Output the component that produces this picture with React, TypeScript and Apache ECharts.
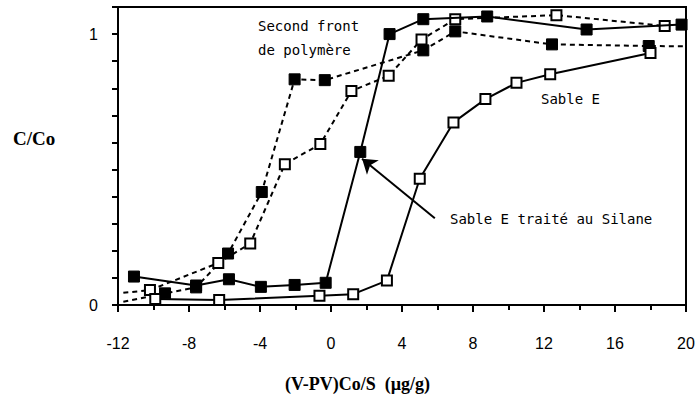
import React, { useEffect, useRef } from "react";
import * as echarts from "echarts";

// Sable E traité au Silane (solid line, filled squares)
const silaneX = [-11.1, -7.6, -5.75, -3.95, -2.05, -0.3, 1.65, 3.3, 5.2, 8.8, 14.4, 19.75];
const silaneY = [0.105, 0.072, 0.095, 0.067, 0.074, 0.082, 0.565, 1.0, 1.055, 1.065, 1.017, 1.035];

// Sable E (solid line, open squares)
const sableX = [-9.9, -6.3, -0.65, 1.25, 3.15, 5.0, 6.9, 8.7, 10.45, 12.35, 18.0];
const sableY = [0.022, 0.018, 0.034, 0.04, 0.09, 0.466, 0.674, 0.76, 0.82, 0.852, 0.93];

// Second front, filled squares (dashed)
const frontFilledX = [-11.7, -9.35, -7.6, -5.8, -3.9, -2.05, -0.35, 5.2, 7.0, 12.45, 17.9, 20];
const frontFilledY = [0.012, 0.043, 0.065, 0.19, 0.417, 0.833, 0.83, 0.94, 1.01, 0.962, 0.956, 0.955];
const frontFilledHidden = [0, 11];

// Second front, open squares (dashed)
const frontOpenX = [-11.7, -10.2, -6.35, -4.55, -2.6, -0.6, 1.15, 3.25, 5.1, 7.0, 12.7, 18.8];
const frontOpenY = [0.045, 0.055, 0.155, 0.227, 0.52, 0.594, 0.79, 0.846, 0.98, 1.055, 1.07, 1.03];
const frontOpenHidden = [0];

const xTicks = [-12, -8, -4, 0, 4, 8, 12, 16, 20];
const yLabelled = [0, 1];

const arrowFrom = [5.85, 0.32];
const arrowTo = [1.75, 0.54];

function pts(xs: number[], ys: number[], hidden: number[] = []) {
  return xs.map((x, i) =>
    hidden.includes(i) ? { value: [x, ys[i]], symbol: "none" } : { value: [x, ys[i]] }
  );
}

export default function App() {
  const ref = useRef<HTMLDivElement>(null);
  useEffect(() => {
    document.body.style.margin = "0";
    const chart = echarts.init(ref.current!, null, { renderer: "svg" });
    const filled = { color: "#000", borderColor: "#000", borderWidth: 1 };
    const open = { color: "#fff", borderColor: "#000", borderWidth: 2 };
    const annFont = "'DejaVu Sans Mono', monospace";
    chart.setOption({
      animation: false,
      backgroundColor: "#fff",
      grid: {
        left: 118,
        right: 13,
        top: 7,
        bottom: 95,
        show: true,
        borderColor: "#000",
        borderWidth: 2,
      },
      xAxis: {
        type: "value",
        min: xTicks[0],
        max: xTicks[xTicks.length - 1],
        interval: 4,
        axisLine: { onZero: false, lineStyle: { color: "#000", width: 2 } },
        axisTick: { show: true, length: 7, lineStyle: { color: "#000", width: 2 } },
        minorTick: { show: true, splitNumber: 2, length: 5, lineStyle: { color: "#000", width: 2 } },
        splitLine: { show: false },
        axisLabel: {
          color: "#000",
          fontSize: 16,
          fontFamily: "'Liberation Sans', Arial, sans-serif",
          margin: 30,
        },
      },
      yAxis: {
        type: "value",
        min: 0,
        max: 1.1,
        interval: 0.1,
        axisLine: { show: true, onZero: false, lineStyle: { color: "#000", width: 2 } },
        axisTick: { show: true, length: 6, lineStyle: { color: "#000", width: 2 } },
        splitLine: { show: false },
        axisLabel: {
          color: "#000",
          fontSize: 16,
          fontFamily: "'Liberation Sans', Arial, sans-serif",
          margin: 20,
          formatter: (v: number) => {
            const r = Math.round(v * 10) / 10;
            return yLabelled.includes(r) ? String(r) : "";
          },
        },
      },
      series: [
        {
          type: "line",
          data: pts(frontFilledX, frontFilledY, frontFilledHidden),
          symbol: "rect",
          symbolSize: 11,
          lineStyle: { color: "#000", width: 2, type: [5, 4] },
          itemStyle: filled,
          z: 2,
        },
        {
          type: "line",
          data: pts(frontOpenX, frontOpenY, frontOpenHidden),
          symbol: "rect",
          symbolSize: 10,
          lineStyle: { color: "#000", width: 2, type: [5, 4] },
          itemStyle: open,
          z: 3,
        },
        {
          type: "line",
          data: pts(silaneX, silaneY),
          symbol: "rect",
          symbolSize: 11,
          lineStyle: { color: "#000", width: 2 },
          itemStyle: filled,
          z: 4,
          markLine: {
            silent: true,
            symbol: ["none", "arrow"],
            symbolSize: 14,
            lineStyle: { color: "#000", width: 2, type: "solid" },
            label: { show: false },
            data: [[{ coord: arrowFrom }, { coord: arrowTo }]],
          },
        },
        {
          type: "line",
          data: pts(sableX, sableY),
          symbol: "rect",
          symbolSize: 10,
          lineStyle: { color: "#000", width: 2 },
          itemStyle: open,
          z: 5,
        },
      ],
      graphic: [
        {
          type: "text",
          left: 13,
          top: 129,
          style: { text: "C/Co", font: "bold 19px 'Liberation Serif', serif", fill: "#000" },
        },
        {
          type: "text",
          left: 285,
          top: 375,
          style: {
            text: "(V-PV)Co/S  (\u00b5g/g)",
            font: "bold 18px 'Liberation Serif', serif",
            fill: "#000",
          },
        },
        {
          type: "text",
          left: 258,
          top: 19,
          style: { text: "Second front", font: `14px ${annFont}`, fill: "#000" },
        },
        {
          type: "text",
          left: 258,
          top: 43,
          style: { text: "de polymère", font: `14px ${annFont}`, fill: "#000" },
        },
        {
          type: "text",
          left: 541,
          top: 92,
          style: { text: "Sable E", font: `14px ${annFont}`, fill: "#000" },
        },
        {
          type: "text",
          left: 450,
          top: 212,
          style: { text: "Sable E traité au Silane", font: `14px ${annFont}`, fill: "#000" },
        },
      ],
    });
    return () => chart.dispose();
  }, []);
  return <div ref={ref} style={{ width: 699, height: 400 }} />;
}
